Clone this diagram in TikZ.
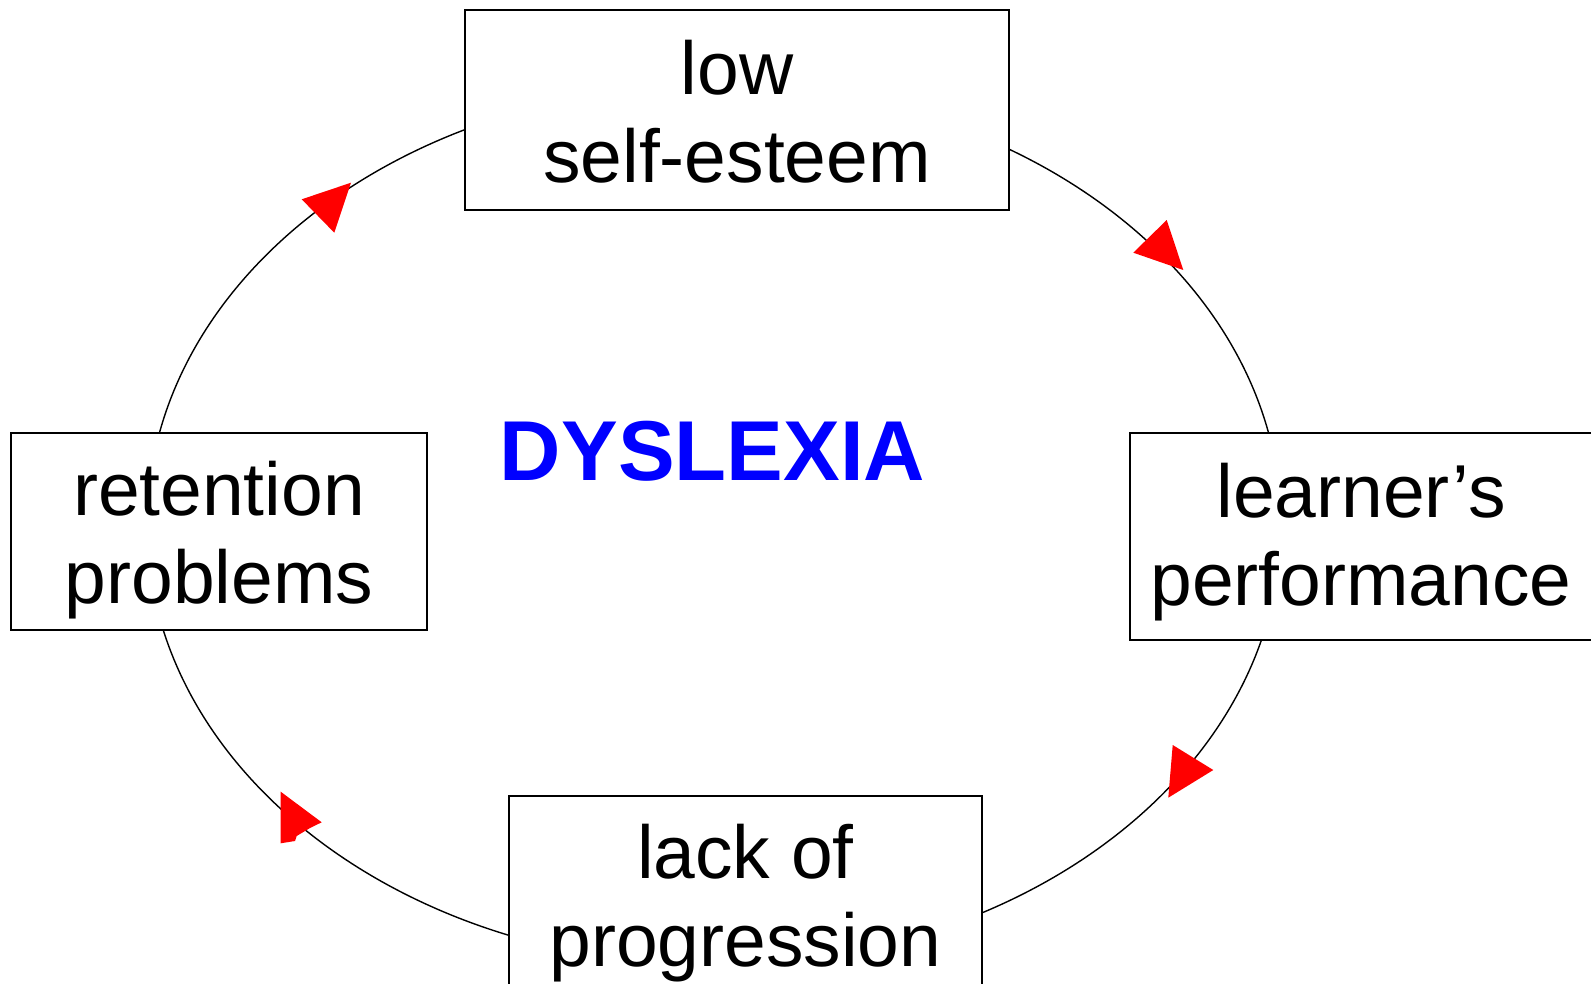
\documentclass[tikz,border=0pt]{standalone}
\usepackage{fontspec}
\setmainfont{Liberation Sans}
\newcommand\linestrut{\rule[-15pt]{0pt}{87pt}}
\newcommand\linestrutb{\rule[-19pt]{0pt}{88pt}}
\begin{document}
\begin{tikzpicture}[x=1pt,y=-1pt,
  box/.style={draw=black, line width=1.8pt, fill=white, inner sep=0pt, align=center,
    font=\fontsize{75}{88}\selectfont},
  cycleline/.style={draw=black, line width=1.4pt},
  arrowhead/.style={fill=red, draw=none}]
\useasboundingbox (0,0) rectangle (1591,983);
\fill[white] (0,0) rectangle (1591,983);
\coordinate (c) at (714,525);
% the cycle
\draw[cycleline] (c) ellipse [x radius=567, y radius=440];
% boxes
\node[box, minimum width=544pt, minimum height=200pt] (top) at (737,110)
  {\linestrut low\\\linestrut self-esteem};
\node[box, minimum width=462pt, minimum height=207pt] (right) at (1361,536.5)
  {\linestrutb learner’s\\\linestrutb performance};
\node[box, minimum width=473pt, minimum height=196pt] (bottom) at (745.5,894)
  {\linestrut lack of\\\linestrut progression};
\node[box, minimum width=416pt, minimum height=197pt] (left) at (219,531.5)
  {\linestrut retention\\\linestrut problems};
% centre title
\node[anchor=base, text=blue, inner sep=0pt, font=\fontsize{85}{90}\selectfont\bfseries] (title) at (712.5,480.7) {DYSLEXIA};
% arrowheads
\fill[arrowhead] (301.7,199.3) -- (351,182.7) -- (334.3,232.7) -- cycle;
\fill[arrowhead] (1166.7,220) -- (1183.3,270) -- (1133.3,252.7) -- cycle;
\fill[arrowhead] (1172.7,745) -- (1213.3,770) -- (1168.3,797.7) -- cycle;
\fill[arrowhead] (280.7,791.7) -- (321.7,822.3) -- (310,828) -- (296.7,836) -- (295,841) -- (280.7,843.3) -- cycle;
\end{tikzpicture}
\end{document}
